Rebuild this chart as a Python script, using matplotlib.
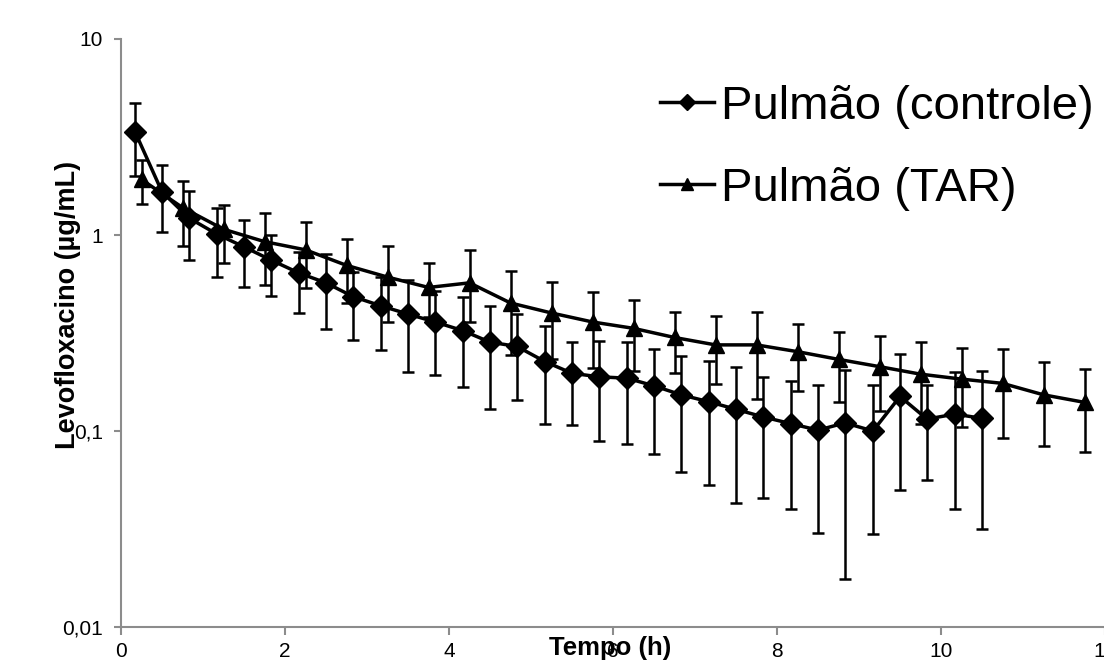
import numpy as np
import matplotlib
matplotlib.use("Agg")
import matplotlib.pyplot as plt
from matplotlib.ticker import FixedLocator, FixedFormatter, NullLocator

plt.rcParams["font.family"] = ["Liberation Sans", "DejaVu Sans"]

# Pulmão (controle) - every 20 min
t_ctrl = [0.17, 0.5, 0.83, 1.17, 1.5, 1.83, 2.17, 2.5, 2.83, 3.17, 3.5, 3.83, 4.17, 4.5, 4.83, 5.17,
          5.5, 5.83, 6.17, 6.5, 6.83, 7.17, 7.5, 7.83, 8.17, 8.5, 8.83, 9.17, 9.5, 9.83, 10.17, 10.5]
ctrl_mean = [3.37, 1.66, 1.22, 1.01, 0.87, 0.745, 0.64, 0.57, 0.485, 0.435, 0.395, 0.36, 0.325, 0.284, 0.27, 0.226,
             0.197, 0.189, 0.186, 0.170, 0.153, 0.141, 0.129, 0.118, 0.109, 0.101, 0.110, 0.100, 0.150, 0.115, 0.122, 0.116]
ctrl_upper = [4.70, 2.27, 1.67, 1.38, 1.19, 1.00, 0.82, 0.80, 0.65, 0.61, 0.59, 0.52, 0.48, 0.435, 0.395, 0.343,
              0.286, 0.288, 0.284, 0.261, 0.242, 0.227, 0.213, 0.188, 0.180, 0.172, 0.205, 0.172, 0.246, 0.172, 0.201, 0.202]
ctrl_lower = [2.0, 1.03, 0.745, 0.61, 0.545, 0.49, 0.40, 0.33, 0.29, 0.26, 0.20, 0.193, 0.168, 0.13, 0.144, 0.108,
              0.107, 0.089, 0.086, 0.076, 0.062, 0.053, 0.043, 0.0455, 0.040, 0.030, 0.0176, 0.0297, 0.050, 0.056, 0.040, 0.0316]

# Pulmão (TAR) - every 30 min
t_tar = [0.25, 0.75, 1.25, 1.75, 2.25, 2.75, 3.25, 3.75, 4.25, 4.75, 5.25, 5.75,
         6.25, 6.75, 7.25, 7.75, 8.25, 8.75, 9.25, 9.75, 10.25, 10.75, 11.25, 11.75]
tar_mean = [1.92, 1.38, 1.07, 0.925, 0.84, 0.70, 0.61, 0.54, 0.57, 0.45, 0.40, 0.36,
            0.334, 0.30, 0.275, 0.275, 0.254, 0.232, 0.213, 0.195, 0.184, 0.175, 0.153, 0.14]
tar_upper = [2.41, 1.89, 1.42, 1.29, 1.16, 0.95, 0.88, 0.72, 0.84, 0.655, 0.575, 0.514,
             0.466, 0.406, 0.386, 0.406, 0.352, 0.321, 0.306, 0.284, 0.266, 0.262, 0.224, 0.206]
tar_lower = [1.44, 0.88, 0.72, 0.556, 0.535, 0.45, 0.358, 0.38, 0.36, 0.245, 0.232, 0.21,
             0.203, 0.197, 0.173, 0.145, 0.16, 0.141, 0.127, 0.109, 0.105, 0.092, 0.084, 0.078]

y_ticks = [0.01, 0.1, 1, 10]
y_tick_labels = ["0,01", "0,1", "1", "10"]
x_ticks = [0, 2, 4, 6, 8, 10, 12]


def asym_err(mean, lower, upper):
    mean = np.array(mean)
    return [mean - np.array(lower), np.array(upper) - mean]


fig = plt.figure(figsize=(11.04, 6.61), dpi=100)
ax = fig.add_axes([121 / 1104, 1 - 627 / 661, 984 / 1104, 588 / 661])

eb_ctrl = ax.errorbar(t_ctrl, ctrl_mean, yerr=asym_err(ctrl_mean, ctrl_lower, ctrl_upper),
                      color="black", marker="D", markersize=11, linewidth=2.5,
                      ecolor="black", elinewidth=1.8, capsize=4.5, capthick=1.8, zorder=3)
eb_tar = ax.errorbar(t_tar, tar_mean, yerr=asym_err(tar_mean, tar_lower, tar_upper),
                     color="black", marker="^", markersize=11.5, linewidth=2.5,
                     ecolor="black", elinewidth=1.8, capsize=4.5, capthick=1.8, zorder=3)

ax.set_yscale("log")
ax.set_ylim(0.01, 10)
ax.set_xlim(0, 12)
ax.yaxis.set_major_locator(FixedLocator(y_ticks))
ax.yaxis.set_major_formatter(FixedFormatter(y_tick_labels))
ax.yaxis.set_minor_locator(NullLocator())
ax.set_xticks(x_ticks)
ax.set_xticklabels([str(x) for x in x_ticks])

for side in ["top", "right"]:
    ax.spines[side].set_visible(False)
for side in ["left", "bottom"]:
    ax.spines[side].set_color("#8c8c8c")
    ax.spines[side].set_linewidth(1.5)

ax.tick_params(axis="both", colors="#8c8c8c", labelcolor="black", labelsize=15, width=1.5)
ax.tick_params(axis="y", length=5, pad=8)
ax.tick_params(axis="x", length=6, pad=5)

ax.set_xlabel("Tempo (h)", fontsize=18.5, fontweight="bold")
ax.xaxis.set_label_coords(0.497, -0.036)
ax.xaxis.label.set_va("center")
ax.set_ylabel("Levofloxacino (µg/mL)", fontsize=19.5, fontweight="bold")
ax.yaxis.set_label_coords(-0.054, 0.547)
ax.yaxis.label.set_va("center")

ax.legend(handles=[eb_ctrl[0], eb_tar[0]], labels=["Pulmão (controle)", "Pulmão (TAR)"],
          loc="upper left", bbox_to_anchor=(660 / 1104, 1 - 85 / 661), bbox_transform=fig.transFigure,
          frameon=False, fontsize=34, borderpad=0, borderaxespad=0, handlelength=1.15, handletextpad=0.15,
          labelspacing=0.8, markerscale=0.75)

fig.savefig("out.png", dpi=100)
